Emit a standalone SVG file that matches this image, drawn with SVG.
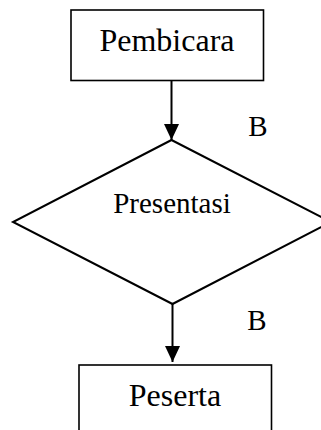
<svg xmlns="http://www.w3.org/2000/svg" width="321" height="430" viewBox="0 0 321 430">
<defs>
<style>
.box{fill:#fff;stroke:#000;stroke-width:1.6}
.dia{fill:#fff;stroke:#000;stroke-width:2}
.edge{fill:none;stroke:#000;stroke-width:2}
.lbl{font-family:"Liberation Serif","Times New Roman",serif;fill:#000;text-anchor:middle}
</style>
<marker id="arr" viewBox="0 0 16 15" refX="16" refY="7.5" markerWidth="16" markerHeight="15" markerUnits="userSpaceOnUse" orient="auto">
<path d="M0,0 L16,7.5 L0,15 Z" fill="#000"/>
</marker>
</defs>
<rect width="321" height="430" fill="#fff"/>
<g id="connectors">
<line class="edge" x1="171.5" y1="80" x2="171.5" y2="140" marker-end="url(#arr)"/>
<line class="edge" x1="172.5" y1="304" x2="172.5" y2="362" marker-end="url(#arr)"/>
</g>
<g id="pembicara">
<rect class="box" x="71" y="10" width="192.5" height="70.5"/>
<text class="lbl" x="167" y="51" font-size="32">Pembicara</text>
</g>
<g id="presentasi">
<polygon class="dia" points="171.5,140 331,222 172.5,304 13,222"/>
<text class="lbl" x="172" y="213" font-size="29">Presentasi</text>
</g>
<g id="peserta">
<rect class="box" x="79" y="365" width="192.5" height="80"/>
<text class="lbl" x="175" y="406" font-size="32">Peserta</text>
</g>
<g id="labels">
<text class="lbl" x="258" y="136" font-size="29">B</text>
<text class="lbl" x="257" y="330" font-size="29">B</text>
</g>
</svg>
